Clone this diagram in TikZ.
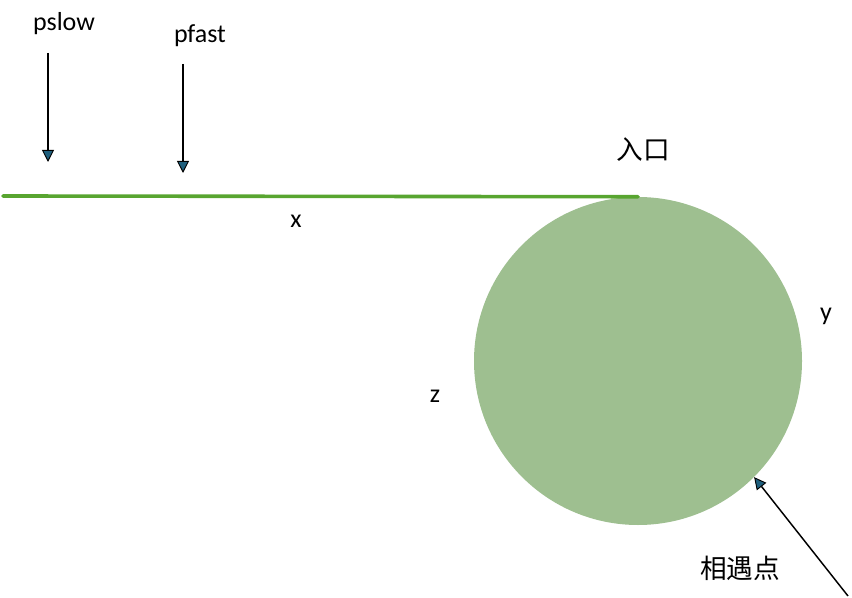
\documentclass[tikz,border=0pt]{standalone}
\usepackage{fontspec}
\setmainfont{Carlito}
\newfontfamily\cjk{Noto Sans CJK SC}
\usetikzlibrary{arrows.meta}
\definecolor{pathgreen}{RGB}{88,165,48}
\definecolor{loopgreen}{RGB}{158,191,144}
\definecolor{tipblue}{RGB}{31,95,125}
\tikzset{
  pointer/.style={black, line width=1.1pt,
    -{Triangle[width=9pt,length=9pt,fill=tipblue,line width=0.7pt]}},
  lbl/.style={inner sep=0pt, font=\fontsize{19.5}{23}\selectfont},
  cjklbl/.style={inner sep=0pt, font=\fontsize{20}{24}\selectfont\cjk}
}
\begin{document}
\begin{tikzpicture}[x=0.75pt,y=-0.75pt]
 	\useasboundingbox (0,0) rectangle (852,598);
 	% the loop
 	\node [circle, fill=loopgreen, inner sep=0pt, minimum size=246pt] (loop) at (638,361) {};
 	% the straight part
 	\coordinate (head) at (3,196);
 	\draw [pathgreen, line width=2.7pt, line cap=round] (head) -- (loop.north);
 	% labels
 	\node [lbl] (pslow) at (64,24) {pslow};
 	\node [lbl] (pfast) at (200,36) {pfast};
 	\node [lbl] (x) at (296,221) {x};
 	\node [lbl] (y) at (826,316) {y};
 	\node [lbl] (z) at (435,396) {z};
 	\node [cjklbl] (entry) at (643,150) {入口};
 	\node [cjklbl] (meet) at (740,568) {相遇点};
 	% pointers
 	\coordinate (ps top) at (48,53);
 	\coordinate (ps tip) at (48,162);
 	\draw [pointer] (ps top) -- (ps tip);
 	\coordinate (pf top) at (183,64);
 	\coordinate (pf tip) at (183,173);
 	\draw [pointer] (pf top) -- (pf tip);
 	\coordinate (mt tail) at (848,596);
 	\draw [pointer] (mt tail) -- (loop.-45);
\end{tikzpicture}
\end{document}
